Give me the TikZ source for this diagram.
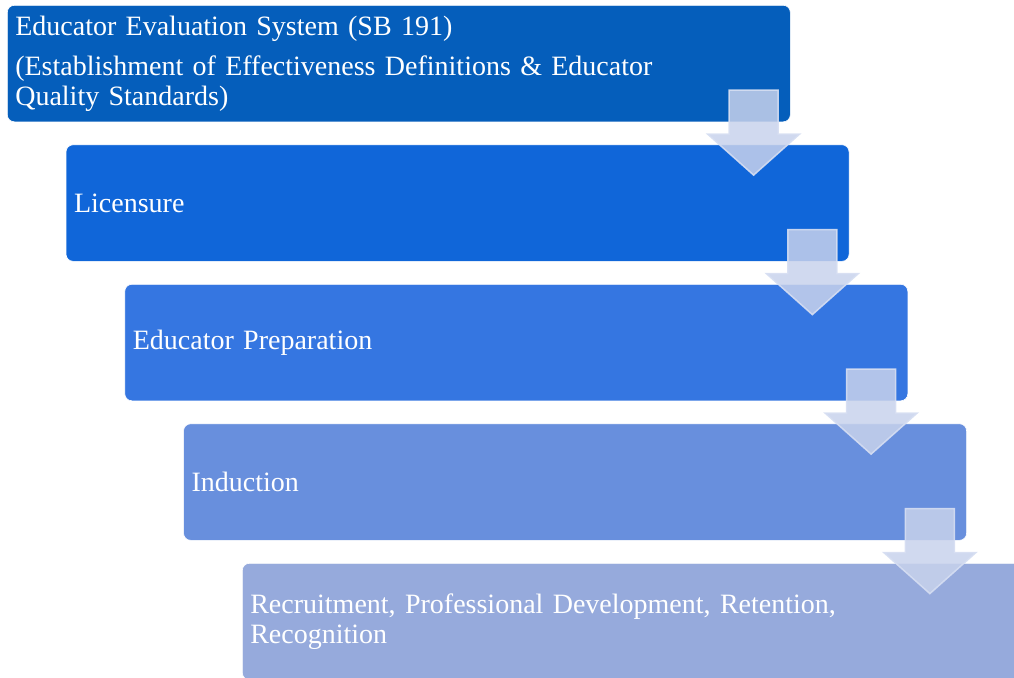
\documentclass[tikz,border=0pt]{standalone}
\usepackage{fontspec}
\setmainfont[WordSpace=0.8]{Liberation Serif}
\usetikzlibrary{calc}
\definecolor{cA}{RGB}{5,94,187}
\definecolor{cB}{RGB}{16,102,217}
\definecolor{cC}{RGB}{53,118,225}
\definecolor{cD}{RGB}{104,143,221}
\definecolor{cE}{RGB}{150,170,220}
\definecolor{arrfill}{RGB}{200,210,236}
\definecolor{arredge}{RGB}{214,222,242}
\tikzset{
  stairbox/.style={rectangle, rounded corners=7pt, draw=white, line width=0.6pt,
    minimum width=783pt, minimum height=116.5pt, text width=767pt,
    inner xsep=8pt, inner ysep=0pt, align=left, anchor=north west,
    text=white, font=\fontsize{28}{30}\selectfont},
  downarrow/.style={fill=arrfill, fill opacity=0.85, draw=arredge, draw opacity=0.9, line width=1.5pt, line join=miter}
}
\newcommand{\stairarrow}[1]{%
  \path[downarrow]
    ($(#1.south east)+(-61.5,-32)$) -- ($(#1.south east)+(-12.5,-32)$)
    -- ($(#1.south east)+(-12.5,12)$) -- ($(#1.south east)+(9,12)$)
    -- ($(#1.south east)+(-37,53)$) -- ($(#1.south east)+(-83,12)$)
    -- ($(#1.south east)+(-61.5,12)$) -- cycle;}
\begin{document}
\begin{tikzpicture}[x=1pt,y=-1pt]
\useasboundingbox (0,0) rectangle (1014,677);
\clip (0,0) rectangle (1014,677);
\node[stairbox, fill=cA] (b1) at (7,5) {Educator Evaluation System (SB 191)\\[10pt](Establishment of Effectiveness Definitions \& Educator\\Quality Standards)};
\node[stairbox, fill=cB] (b2) at (65.75,144.5) {Licensure};
\node[stairbox, fill=cC] (b3) at (124.5,284) {Educator Preparation};
\node[stairbox, fill=cD] (b4) at (183.25,423.5) {Induction};
\node[stairbox, fill=cE] (b5) at (242,563) {Recruitment, Professional Development, Retention,\\Recognition};
\stairarrow{b1}
\stairarrow{b2}
\stairarrow{b3}
\stairarrow{b4}
\end{tikzpicture}
\end{document}
